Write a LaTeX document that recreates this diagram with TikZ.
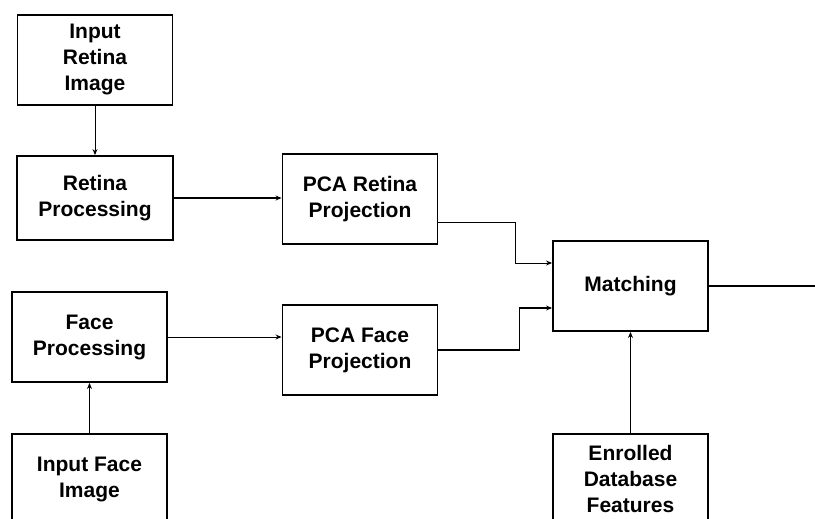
\documentclass[tikz,border=0pt]{standalone}
\usepackage{fontspec}
\setmainfont{Liberation Sans}
\usetikzlibrary{arrows.meta}

\tikzset{
  block/.style={draw,line width=1.9pt,minimum width=155pt,minimum height=90pt,
    align=center,font=\fontsize{21}{26}\selectfont\bfseries,inner sep=0pt},
  thinlink/.style={line width=1pt,-{Stealth[length=6pt,width=5pt]}},
  thicklink/.style={line width=1.6pt,-{Stealth[length=6pt,width=5pt]}}
}

\begin{document}
\begin{tikzpicture}[x=1pt,y=-1pt]
\clip (0,0) rectangle (815,519);

\node[block] (inret) at (95,60) {Input\\Retina\\Image};
\node[block,minimum width=156pt,minimum height=84pt] (retproc) at (95,198) {Retina\\Processing};
\node[block] (pcaret) at (360,199) {PCA Retina\\Projection};
\node[block] (match) at (630.5,286) {Matching};
\node[block] (faceproc) at (89.5,337) {Face\\Processing};
\node[block] (pcaface) at (360,350) {PCA Face\\Projection};
\node[block] (inface) at (89.5,479) {Input Face\\Image};
\node[block] (enrolled) at (630.5,479) {Enrolled\\Database\\Features};
\coordinate (out) at (815,286);

\draw[thinlink] (inret) -- (retproc);
\draw[thicklink] (retproc.east) -- (retproc.east -| pcaret.west);
\draw[thinlink] ([yshift=-23pt]pcaret.east) -- ++(77,0) |- ([yshift=23pt]match.west);

\draw[thinlink] (inface) -- (faceproc);
\draw[thinlink] (faceproc.east) -- (faceproc.east -| pcaface.west);
\draw[thicklink] (pcaface.east) -- ++(81,0) |- ([yshift=-22pt]match.west);

\draw[thicklink] (enrolled) -- (match);
%\draw[thicklink] (match) -- (out);
\draw[line width=1.6pt] (match.east) -- (out);

\end{tikzpicture}
\end{document}
